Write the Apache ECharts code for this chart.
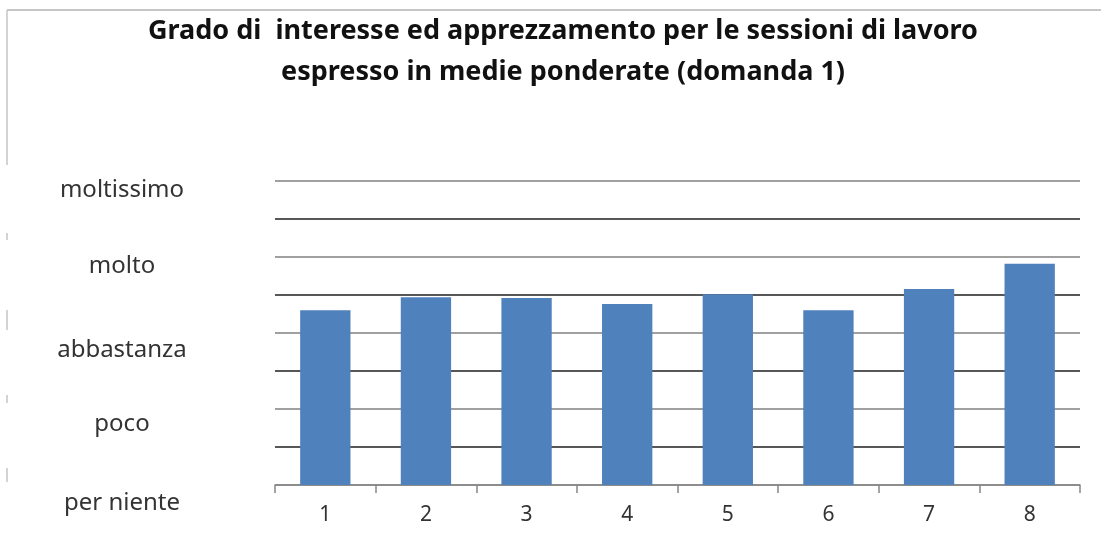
<!DOCTYPE html>
<html>
<head>
<meta charset="utf-8">
<script src="https://cdn.jsdelivr.net/npm/echarts@6/dist/echarts.min.js"></script>
<style>
  html, body { margin: 0; padding: 0; background: #fff; }
  #chart { width: 1101px; height: 539px; }
</style>
</head>
<body>
<div id="chart"></div>
<script>
// dati
var sessioni = ['1', '2', '3', '4', '5', '6', '7', '8'];
var medie = [2.30, 2.47, 2.46, 2.38, 2.51, 2.30, 2.58, 2.91];
var livelli = ['per niente', 'poco', 'abbastanza', 'molto', 'moltissimo'];

var chart = echarts.init(document.getElementById('chart'));

// spostamento verticale delle etichette (come nei riquadri di testo originali)
var rich = {
  l0: { padding: [36, 0, 0, 0] },
  l1: { padding: [30, 0, 0, 0] },
  l2: { padding: [34, 0, 0, 0] },
  l3: { padding: [18, 0, 0, 0] },
  l4: { padding: [18, 0, 0, 0] }
};

var option = {
  backgroundColor: '#fff',
  animation: false,
  title: {
    text: 'Grado di  interesse ed apprezzamento per le sessioni di lavoro\nespresso in medie ponderate (domanda 1)',
    left: 558,
    top: 6,
    textAlign: 'center',
    textStyle: {
      fontFamily: 'Noto Sans',
      fontSize: 27,
      fontWeight: 'bold',
      color: '#111',
      lineHeight: 41
    }
  },
  grid: { left: 275, right: 21, top: 181, bottom: 54 },
  xAxis: {
    type: 'category',
    data: sessioni,
    axisLine: { lineStyle: { color: '#868686', width: 1.5 } },
    axisTick: { show: true, length: 8, lineStyle: { color: '#868686', width: 1.5 } },
    axisLabel: {
      margin: 20,
      fontFamily: 'Noto Sans',
      fontSize: 21,
      color: '#333'
    }
  },
  yAxis: {
    type: 'value',
    min: 0,
    max: 4,
    interval: 0.5,
    axisLine: { show: false },
    axisTick: { show: false },
    splitLine: { lineStyle: { color: ['#808080', '#1f1f1f'], width: 1.5 } },
    axisLabel: {
      align: 'center',
      margin: 153,
      fontFamily: 'Noto Sans',
      fontSize: 24,
      color: '#333',
      rich: rich,
      formatter: function (v) {
        if (v % 1 !== 0) return '';
        return '{l' + v + '|' + livelli[v] + '}';
      }
    }
  },
  series: [{
    type: 'bar',
    data: medie,
    barWidth: '50%',
    itemStyle: { color: '#4f81bd' }
  }],
  graphic: [
    { type: 'line', shape: { x1: 7, y1: 10, x2: 1101, y2: 10 }, style: { stroke: '#c6c6c6', lineWidth: 2 } },
    { type: 'line', shape: { x1: 7, y1: 10, x2: 7, y2: 165 }, style: { stroke: '#c6c6c6', lineWidth: 1.5 } },
    { type: 'line', shape: { x1: 7, y1: 233, x2: 7, y2: 240 }, style: { stroke: '#c6c6c6', lineWidth: 1.5 } },
    { type: 'line', shape: { x1: 7, y1: 310, x2: 7, y2: 330 }, style: { stroke: '#c6c6c6', lineWidth: 1.5 } },
    { type: 'line', shape: { x1: 7, y1: 395, x2: 7, y2: 403 }, style: { stroke: '#c6c6c6', lineWidth: 1.5 } },
    { type: 'line', shape: { x1: 7, y1: 468, x2: 7, y2: 482 }, style: { stroke: '#c6c6c6', lineWidth: 1.5 } }
  ]
};

chart.setOption(option);
</script>
</body>
</html>
